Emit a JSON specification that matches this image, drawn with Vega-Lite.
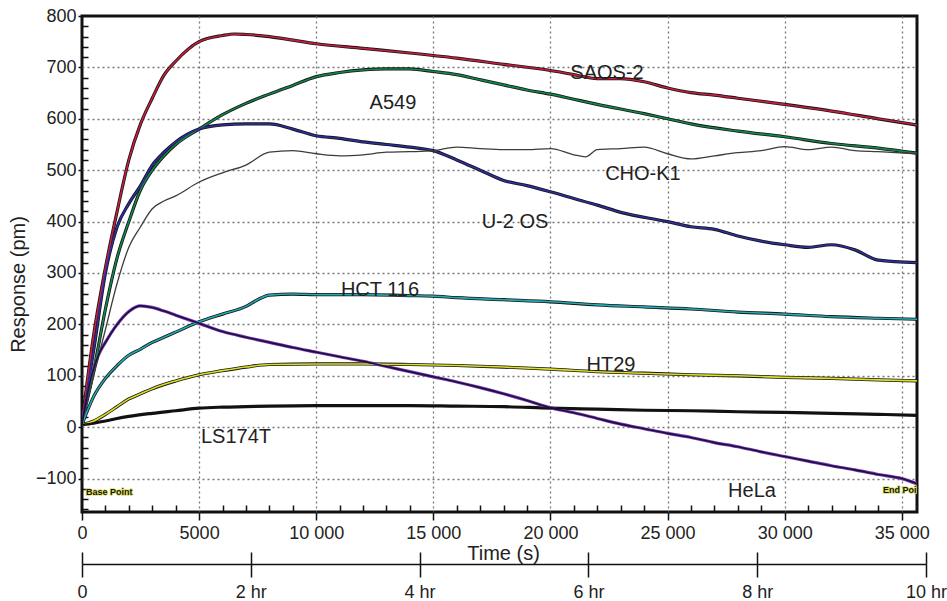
{
  "$schema": "https://vega.github.io/schema/vega-lite/v6.json",
  "width": 835,
  "height": 496,
  "autosize": {"type": "none"},
  "padding": {"left": 82, "top": 16, "right": 30, "bottom": 89},
  "background": "white",
  "config": {
    "view": {"stroke": "#111111", "strokeWidth": 3},
    "font": "Liberation Sans"
  },
  "datasets": {
    "curves": [
      {"s":"SAOS-2","t":0,"v":10},{"s":"SAOS-2","t":500,"v":180},{"s":"SAOS-2","t":1000,"v":310},{"s":"SAOS-2","t":1500,"v":420},{"s":"SAOS-2","t":2000,"v":520},{"s":"SAOS-2","t":2500,"v":590},{"s":"SAOS-2","t":3000,"v":640},{"s":"SAOS-2","t":3500,"v":685},{"s":"SAOS-2","t":4000,"v":712},{"s":"SAOS-2","t":5000,"v":750},{"s":"SAOS-2","t":6000,"v":762},{"s":"SAOS-2","t":6500,"v":765},{"s":"SAOS-2","t":7000,"v":764},{"s":"SAOS-2","t":8000,"v":760},{"s":"SAOS-2","t":9000,"v":753},{"s":"SAOS-2","t":10000,"v":746},{"s":"SAOS-2","t":12000,"v":737},{"s":"SAOS-2","t":14000,"v":728},{"s":"SAOS-2","t":16000,"v":718},{"s":"SAOS-2","t":18000,"v":706},{"s":"SAOS-2","t":20000,"v":694},{"s":"SAOS-2","t":21000,"v":686},{"s":"SAOS-2","t":22000,"v":678},{"s":"SAOS-2","t":23000,"v":678},{"s":"SAOS-2","t":24000,"v":672},{"s":"SAOS-2","t":25000,"v":660},{"s":"SAOS-2","t":26000,"v":651},{"s":"SAOS-2","t":27000,"v":646},{"s":"SAOS-2","t":28000,"v":640},{"s":"SAOS-2","t":30000,"v":628},{"s":"SAOS-2","t":32000,"v":615},{"s":"SAOS-2","t":34000,"v":600},{"s":"SAOS-2","t":35650,"v":588},
      {"s":"A549","t":0,"v":10},{"s":"A549","t":500,"v":110},{"s":"A549","t":1000,"v":230},{"s":"A549","t":1500,"v":330},{"s":"A549","t":2000,"v":400},{"s":"A549","t":2500,"v":462},{"s":"A549","t":3000,"v":500},{"s":"A549","t":3500,"v":528},{"s":"A549","t":4000,"v":550},{"s":"A549","t":5000,"v":580},{"s":"A549","t":6000,"v":608},{"s":"A549","t":7000,"v":630},{"s":"A549","t":8000,"v":648},{"s":"A549","t":9000,"v":665},{"s":"A549","t":10000,"v":682},{"s":"A549","t":11000,"v":690},{"s":"A549","t":12000,"v":695},{"s":"A549","t":13000,"v":697},{"s":"A549","t":14000,"v":697},{"s":"A549","t":15000,"v":692},{"s":"A549","t":16000,"v":686},{"s":"A549","t":17000,"v":676},{"s":"A549","t":18000,"v":666},{"s":"A549","t":19000,"v":656},{"s":"A549","t":20000,"v":648},{"s":"A549","t":21000,"v":638},{"s":"A549","t":22000,"v":628},{"s":"A549","t":24000,"v":610},{"s":"A549","t":25000,"v":600},{"s":"A549","t":26000,"v":590},{"s":"A549","t":28000,"v":576},{"s":"A549","t":30000,"v":565},{"s":"A549","t":32000,"v":552},{"s":"A549","t":34000,"v":543},{"s":"A549","t":35650,"v":533},
      {"s":"U-2 OS","t":0,"v":10},{"s":"U-2 OS","t":500,"v":150},{"s":"U-2 OS","t":1000,"v":300},{"s":"U-2 OS","t":1500,"v":390},{"s":"U-2 OS","t":2000,"v":435},{"s":"U-2 OS","t":2500,"v":470},{"s":"U-2 OS","t":3000,"v":510},{"s":"U-2 OS","t":3500,"v":535},{"s":"U-2 OS","t":4000,"v":555},{"s":"U-2 OS","t":5000,"v":580},{"s":"U-2 OS","t":6000,"v":588},{"s":"U-2 OS","t":7000,"v":590},{"s":"U-2 OS","t":8000,"v":590},{"s":"U-2 OS","t":9000,"v":580},{"s":"U-2 OS","t":10000,"v":567},{"s":"U-2 OS","t":11000,"v":562},{"s":"U-2 OS","t":12000,"v":555},{"s":"U-2 OS","t":13000,"v":550},{"s":"U-2 OS","t":14000,"v":545},{"s":"U-2 OS","t":15000,"v":538},{"s":"U-2 OS","t":16000,"v":520},{"s":"U-2 OS","t":17000,"v":500},{"s":"U-2 OS","t":18000,"v":480},{"s":"U-2 OS","t":19000,"v":470},{"s":"U-2 OS","t":20000,"v":458},{"s":"U-2 OS","t":21000,"v":445},{"s":"U-2 OS","t":22000,"v":432},{"s":"U-2 OS","t":23000,"v":418},{"s":"U-2 OS","t":25000,"v":400},{"s":"U-2 OS","t":26000,"v":390},{"s":"U-2 OS","t":27000,"v":385},{"s":"U-2 OS","t":28000,"v":372},{"s":"U-2 OS","t":29000,"v":362},{"s":"U-2 OS","t":30000,"v":355},{"s":"U-2 OS","t":31000,"v":350},{"s":"U-2 OS","t":32000,"v":355},{"s":"U-2 OS","t":33000,"v":345},{"s":"U-2 OS","t":34000,"v":325},{"s":"U-2 OS","t":35650,"v":320},
      {"s":"CHO-K1","t":0,"v":10},{"s":"CHO-K1","t":500,"v":100},{"s":"CHO-K1","t":1000,"v":190},{"s":"CHO-K1","t":1500,"v":280},{"s":"CHO-K1","t":2000,"v":350},{"s":"CHO-K1","t":2500,"v":390},{"s":"CHO-K1","t":3000,"v":425},{"s":"CHO-K1","t":3500,"v":440},{"s":"CHO-K1","t":4000,"v":450},{"s":"CHO-K1","t":5000,"v":477},{"s":"CHO-K1","t":6000,"v":495},{"s":"CHO-K1","t":7000,"v":510},{"s":"CHO-K1","t":8000,"v":535},{"s":"CHO-K1","t":9000,"v":538},{"s":"CHO-K1","t":10000,"v":532},{"s":"CHO-K1","t":11000,"v":528},{"s":"CHO-K1","t":12000,"v":530},{"s":"CHO-K1","t":13000,"v":535},{"s":"CHO-K1","t":14000,"v":536},{"s":"CHO-K1","t":15000,"v":538},{"s":"CHO-K1","t":16000,"v":545},{"s":"CHO-K1","t":17000,"v":542},{"s":"CHO-K1","t":18000,"v":540},{"s":"CHO-K1","t":19000,"v":540},{"s":"CHO-K1","t":20000,"v":542},{"s":"CHO-K1","t":21000,"v":530},{"s":"CHO-K1","t":21500,"v":526},{"s":"CHO-K1","t":22000,"v":540},{"s":"CHO-K1","t":23000,"v":542},{"s":"CHO-K1","t":24000,"v":545},{"s":"CHO-K1","t":25000,"v":532},{"s":"CHO-K1","t":26000,"v":522},{"s":"CHO-K1","t":27000,"v":528},{"s":"CHO-K1","t":28000,"v":534},{"s":"CHO-K1","t":29000,"v":538},{"s":"CHO-K1","t":30000,"v":546},{"s":"CHO-K1","t":31000,"v":540},{"s":"CHO-K1","t":32000,"v":545},{"s":"CHO-K1","t":33000,"v":538},{"s":"CHO-K1","t":34000,"v":536},{"s":"CHO-K1","t":35650,"v":532},
      {"s":"HCT 116","t":0,"v":5},{"s":"HCT 116","t":500,"v":60},{"s":"HCT 116","t":1000,"v":95},{"s":"HCT 116","t":1500,"v":120},{"s":"HCT 116","t":2000,"v":140},{"s":"HCT 116","t":2500,"v":152},{"s":"HCT 116","t":3000,"v":165},{"s":"HCT 116","t":3500,"v":175},{"s":"HCT 116","t":4000,"v":185},{"s":"HCT 116","t":5000,"v":205},{"s":"HCT 116","t":6000,"v":220},{"s":"HCT 116","t":7000,"v":235},{"s":"HCT 116","t":7500,"v":248},{"s":"HCT 116","t":8000,"v":257},{"s":"HCT 116","t":9000,"v":259},{"s":"HCT 116","t":10000,"v":258},{"s":"HCT 116","t":12000,"v":258},{"s":"HCT 116","t":14000,"v":256},{"s":"HCT 116","t":15000,"v":255},{"s":"HCT 116","t":16000,"v":252},{"s":"HCT 116","t":18000,"v":248},{"s":"HCT 116","t":20000,"v":244},{"s":"HCT 116","t":22000,"v":238},{"s":"HCT 116","t":24000,"v":234},{"s":"HCT 116","t":26000,"v":230},{"s":"HCT 116","t":28000,"v":224},{"s":"HCT 116","t":30000,"v":220},{"s":"HCT 116","t":32000,"v":215},{"s":"HCT 116","t":34000,"v":212},{"s":"HCT 116","t":35650,"v":210},
      {"s":"HT29","t":0,"v":5},{"s":"HT29","t":500,"v":12},{"s":"HT29","t":1000,"v":25},{"s":"HT29","t":1500,"v":40},{"s":"HT29","t":2000,"v":55},{"s":"HT29","t":2500,"v":65},{"s":"HT29","t":3000,"v":75},{"s":"HT29","t":4000,"v":90},{"s":"HT29","t":5000,"v":102},{"s":"HT29","t":6000,"v":110},{"s":"HT29","t":7000,"v":117},{"s":"HT29","t":8000,"v":122},{"s":"HT29","t":10000,"v":123},{"s":"HT29","t":12000,"v":123},{"s":"HT29","t":14000,"v":122},{"s":"HT29","t":16000,"v":120},{"s":"HT29","t":18000,"v":117},{"s":"HT29","t":20000,"v":113},{"s":"HT29","t":22000,"v":108},{"s":"HT29","t":24000,"v":105},{"s":"HT29","t":26000,"v":102},{"s":"HT29","t":28000,"v":100},{"s":"HT29","t":30000,"v":97},{"s":"HT29","t":32000,"v":95},{"s":"HT29","t":34000,"v":92},{"s":"HT29","t":35650,"v":90},
      {"s":"LS174T","t":0,"v":5},{"s":"LS174T","t":500,"v":8},{"s":"LS174T","t":1000,"v":12},{"s":"LS174T","t":1500,"v":17},{"s":"LS174T","t":2000,"v":21},{"s":"LS174T","t":3000,"v":27},{"s":"LS174T","t":4000,"v":32},{"s":"LS174T","t":5000,"v":37},{"s":"LS174T","t":6000,"v":39},{"s":"LS174T","t":7000,"v":40},{"s":"LS174T","t":8000,"v":41},{"s":"LS174T","t":10000,"v":42},{"s":"LS174T","t":12000,"v":42},{"s":"LS174T","t":14000,"v":42},{"s":"LS174T","t":16000,"v":41},{"s":"LS174T","t":18000,"v":40},{"s":"LS174T","t":20000,"v":37},{"s":"LS174T","t":22000,"v":35},{"s":"LS174T","t":24000,"v":33},{"s":"LS174T","t":26000,"v":32},{"s":"LS174T","t":28000,"v":30},{"s":"LS174T","t":30000,"v":29},{"s":"LS174T","t":32000,"v":27},{"s":"LS174T","t":34000,"v":25},{"s":"LS174T","t":35650,"v":23},
      {"s":"HeLa","t":0,"v":5},{"s":"HeLa","t":300,"v":80},{"s":"HeLa","t":700,"v":140},{"s":"HeLa","t":1000,"v":165},{"s":"HeLa","t":1500,"v":200},{"s":"HeLa","t":2000,"v":225},{"s":"HeLa","t":2500,"v":236},{"s":"HeLa","t":3000,"v":233},{"s":"HeLa","t":3500,"v":226},{"s":"HeLa","t":4000,"v":218},{"s":"HeLa","t":5000,"v":202},{"s":"HeLa","t":6000,"v":186},{"s":"HeLa","t":7000,"v":175},{"s":"HeLa","t":8000,"v":165},{"s":"HeLa","t":9000,"v":155},{"s":"HeLa","t":10000,"v":146},{"s":"HeLa","t":11000,"v":137},{"s":"HeLa","t":12000,"v":128},{"s":"HeLa","t":13000,"v":118},{"s":"HeLa","t":14000,"v":108},{"s":"HeLa","t":15000,"v":98},{"s":"HeLa","t":16000,"v":88},{"s":"HeLa","t":17000,"v":77},{"s":"HeLa","t":18000,"v":65},{"s":"HeLa","t":19000,"v":52},{"s":"HeLa","t":20000,"v":38},{"s":"HeLa","t":21000,"v":28},{"s":"HeLa","t":22000,"v":17},{"s":"HeLa","t":23000,"v":6},{"s":"HeLa","t":24000,"v":-3},{"s":"HeLa","t":25000,"v":-12},{"s":"HeLa","t":26000,"v":-20},{"s":"HeLa","t":27000,"v":-30},{"s":"HeLa","t":28000,"v":-38},{"s":"HeLa","t":29000,"v":-48},{"s":"HeLa","t":30000,"v":-57},{"s":"HeLa","t":31000,"v":-66},{"s":"HeLa","t":32000,"v":-75},{"s":"HeLa","t":33000,"v":-83},{"s":"HeLa","t":34000,"v":-92},{"s":"HeLa","t":35000,"v":-100},{"s":"HeLa","t":35650,"v":-110}
    ],
    "labels": [
      {"label":"SAOS-2","t":22415,"v":689},
      {"label":"A549","t":13277,"v":631},
      {"label":"CHO-K1","t":23950,"v":493},
      {"label":"U-2 OS","t":18486,"v":399},
      {"label":"HCT 116","t":12722,"v":267},
      {"label":"HT29","t":22585,"v":121},
      {"label":"LS174T","t":6575,"v":-19},
      {"label":"HeLa","t":28605,"v":-124}
    ],
    "marks": [
      {"label":"Base Point","t":171,"v":-126},
      {"label":"End Point","t":34195,"v":-122}
    ],
    "hours": [{"h":0},{"h":10}]
  },
  "layer": [
    {
      "layer": [
        {
          "data": {"name": "curves"},
          "transform": [{"filter": "datum.s !== 'CHO-K1'"}],
          "mark": {"type": "line", "strokeWidth": 3.2, "clip": true, "interpolate": "monotone"},
          "encoding": {
            "x": {
              "field": "t", "type": "quantitative",
              "scale": {"domain": [0, 35650], "nice": false, "zero": false},
              "axis": {
                "values": [0,1000,2000,3000,4000,5000,6000,7000,8000,9000,10000,11000,12000,13000,14000,15000,16000,17000,18000,19000,20000,21000,22000,23000,24000,25000,26000,27000,28000,29000,30000,31000,32000,33000,34000,35000],
                "tickCount": 200,
                "labelExpr": "datum.value % 5000 !== 0 ? '' : (datum.value >= 10000 ? replace(format(datum.value, ','), ',', ' ') : format(datum.value, 'd'))",
                "tickSize": {"condition": {"test": "datum.value % 5000 === 0", "value": 8}, "value": -7},
                "tickColor": "#111111",
                "tickWidth": 1.5,
                "domain": false,
                "grid": true,
                "gridDash": [2, 3],
                "gridColor": "#777777",
                "gridWidth": 1.3,
                "gridOpacity": {"condition": {"test": "datum.value % 5000 === 0 && datum.value > 0", "value": 1}, "value": 0},
                "labelFontSize": 18,
                "labelFont": "Liberation Sans",
                "labelColor": "#222222",
                "labelFlush": false,
                "labelBaseline": "middle",
                "labelPadding": 13,
                "labelOverlap": false,
                "title": "Time (s)",
                "titleFont": "Liberation Sans",
                "titleFontSize": 20,
                "titleFontWeight": "normal",
                "titleColor": "#222222",
                "titleX": 421,
                "titleY": 41,
                "titleAlign": "center",
                "titleBaseline": "middle"
              }
            },
            "y": {
              "field": "v", "type": "quantitative",
              "scale": {"domain": [-165, 800], "nice": false, "zero": false},
              "axis": {
                "values": [-160,-140,-120,-100,-80,-60,-40,-20,0,20,40,60,80,100,120,140,160,180,200,220,240,260,280,300,320,340,360,380,400,420,440,460,480,500,520,540,560,580,600,620,640,660,680,700,720,740,760,780,800],
                "tickCount": 200,
                "labelExpr": "datum.value % 100 === 0 ? datum.label : ''",
                "tickSize": {"condition": {"test": "datum.value % 100 === 0", "value": 4}, "value": -6},
                "tickColor": "#111111",
                "tickWidth": 1.5,
                "domain": false,
                "grid": true,
                "gridDash": [2, 3],
                "gridColor": "#777777",
                "gridWidth": 1.3,
                "gridOpacity": {"condition": {"test": "datum.value % 100 === 0 && datum.value < 800", "value": 1}, "value": 0},
                "labelFontSize": 18,
                "labelFont": "Liberation Sans",
                "labelColor": "#222222",
                "labelPadding": 2,
                "labelOverlap": false,
                "labelFlush": false,
                "title": "Response (pm)",
                "titleFont": "Liberation Sans",
                "titleFontSize": 20,
                "titleFontWeight": "normal",
                "titleColor": "#222222",
                "titleAngle": 270,
                "titleX": -64,
                "titleY": 268,
                "titleAlign": "center",
                "titleBaseline": "middle"
              }
            },
            "detail": {"field": "s"},
            "color": {"condition": {"test": "datum.s === 'HeLa'", "value": "#7d3cb8"}, "value": "#151515"}
          }
        },
        {
          "data": {"name": "curves"},
          "mark": {"type": "line", "clip": true, "interpolate": "monotone"},
          "encoding": {
            "x": {"field": "t", "type": "quantitative"},
            "y": {"field": "v", "type": "quantitative"},
            "color": {
              "field": "s", "type": "nominal", "legend": null,
              "scale": {
                "domain": ["SAOS-2","A549","U-2 OS","CHO-K1","HCT 116","HT29","LS174T","HeLa"],
                "range": ["#c81e3c","#14854a","#2e2ea0","#3c3c3c","#22aab2","#dede22","#111111","#1c0f3c"]
              }
            },
            "strokeWidth": {"condition": {"test": "datum.s === 'CHO-K1'", "value": 1.3}, "value": 1.6}
          }
        },
        {
          "data": {"name": "labels"},
          "mark": {"type": "text", "fontSize": 20, "font": "Liberation Sans", "color": "#222222", "align": "center", "baseline": "middle"},
          "encoding": {
            "x": {"field": "t", "type": "quantitative"},
            "y": {"field": "v", "type": "quantitative"},
            "text": {"field": "label"}
          }
        },
        {
          "data": {"name": "marks"},
          "mark": {"type": "text", "fontSize": 9, "fontWeight": "bold", "font": "Liberation Sans", "color": "#dede70", "stroke": "#dede70", "strokeWidth": 1.5, "align": "left", "baseline": "middle", "clip": true},
          "encoding": {
            "x": {"field": "t", "type": "quantitative"},
            "y": {"field": "v", "type": "quantitative"},
            "text": {"field": "label"}
          }
        },
        {
          "data": {"name": "marks"},
          "mark": {"type": "text", "fontSize": 9, "fontWeight": "bold", "font": "Liberation Sans", "color": "#1a1a00", "align": "left", "baseline": "middle", "clip": true},
          "encoding": {
            "x": {"field": "t", "type": "quantitative"},
            "y": {"field": "v", "type": "quantitative"},
            "text": {"field": "label"}
          }
        }
      ]
    },
    {
      "data": {"name": "hours"},
      "mark": {"type": "point", "opacity": 0},
      "encoding": {
        "x": {
          "field": "h", "type": "quantitative",
          "scale": {"domain": [0, 10], "range": [0, 844], "nice": false, "zero": false},
          "axis": {
            "orient": "bottom",
            "offset": 52,
            "values": [0, 2, 4, 6, 8, 10],
            "labelExpr": "datum.value === 0 ? '0' : datum.value + ' hr'",
            "tickSize": 13,
            "tickWidth": 1.5,
            "tickColor": "#111111",
            "domain": true,
            "domainColor": "#111111",
            "domainWidth": 1.5,
            "grid": false,
            "labelFontSize": 18,
            "labelFont": "Liberation Sans",
            "labelColor": "#222222",
            "labelFlush": false,
            "labelOverlap": false,
            "labelBaseline": "middle",
            "labelPadding": 15,
            "title": null
          }
        }
      }
    },
    {
      "data": {"name": "hours"},
      "mark": {"type": "point", "opacity": 0},
      "encoding": {
        "x": {
          "field": "h", "type": "quantitative",
          "scale": {"domain": [0, 10], "range": [0, 844], "nice": false, "zero": false},
          "axis": {
            "orient": "bottom",
            "offset": 52,
            "values": [0, 2, 4, 6, 8, 10],
            "tickSize": -12,
            "tickWidth": 1.5,
            "tickColor": "#111111",
            "domain": false,
            "grid": false,
            "labels": false,
            "title": null
          }
        }
      }
    }
  ],
  "resolve": {"scale": {"x": "independent"}}
}
